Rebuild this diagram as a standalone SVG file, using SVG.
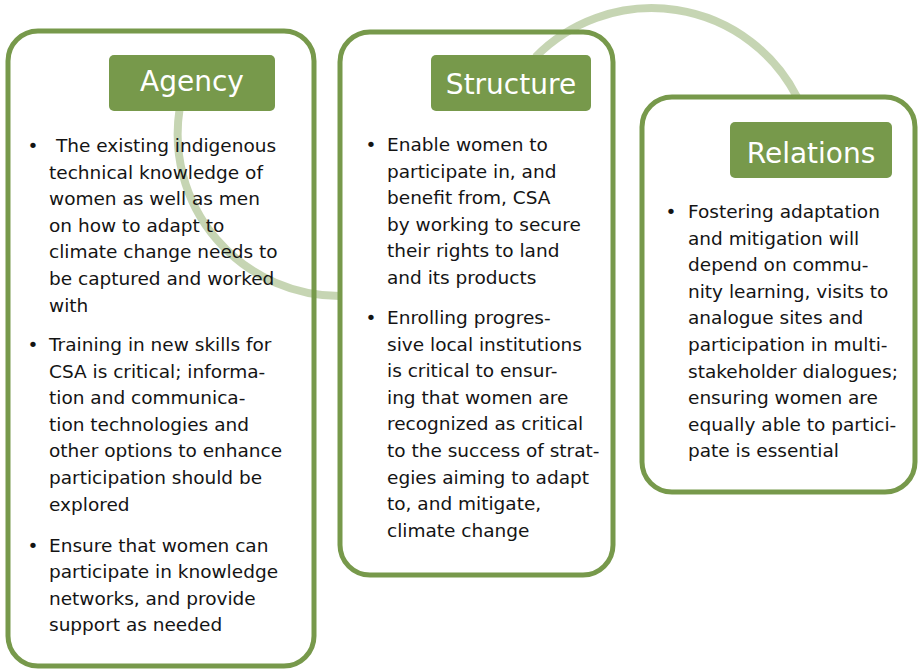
<svg xmlns="http://www.w3.org/2000/svg" width="919" height="671" viewBox="0 0 919 671">
<style>
.box{fill:#fff;stroke:#77994b;stroke-width:5}
.ttl{fill:#77994b}
.tt{font-family:"DejaVu Sans",sans-serif;font-size:28px;fill:#fff;text-anchor:middle}
.t{font-family:"DejaVu Sans",sans-serif;font-size:18.5px;fill:#141414}
.b{font-family:"DejaVu Sans",sans-serif;font-size:18.5px;fill:#141414;text-anchor:middle}
.arc{fill:none;stroke:#779a4a;stroke-opacity:0.42;stroke-width:8}
</style>
<rect x="0" y="0" width="919" height="671" fill="#fff"/>
<g id="agency-frame"><rect class="box" x="8" y="31" width="306" height="635" rx="30"/></g>
<g id="structure-frame"><rect class="box" x="340" y="32" width="273" height="543" rx="30"/></g>
<g id="relations-frame"><rect class="box" x="642" y="97" width="273" height="395" rx="30"/></g>
<g id="connectors">
<path class="arc" d="M179.6,109 A162,162 0 0 0 340,296"/>
<path class="arc" d="M535.5,57 A163,163 0 0 1 797,97"/>
</g>
<g id="agency">
<rect class="ttl" x="109" y="55" width="166" height="56" rx="5"/>
<text class="tt" x="192" y="91">Agency</text>
<text class="b" x="33" y="152">•</text>
<text class="t" x="49" y="152"><tspan x="56">The existing indigenous</tspan><tspan x="49" dy="26.6">technical knowledge of</tspan><tspan x="49" dy="26.6">women as well as men</tspan><tspan x="49" dy="26.6">on how to adapt to</tspan><tspan x="49" dy="26.6">climate change needs to</tspan><tspan x="49" dy="26.6">be captured and worked</tspan><tspan x="49" dy="26.6">with</tspan></text>
<text class="b" x="33" y="351">•</text>
<text class="t" x="49" y="351"><tspan x="49">Training in new skills for</tspan><tspan x="49" dy="26.6">CSA is critical; informa-</tspan><tspan x="49" dy="26.6">tion and communica-</tspan><tspan x="49" dy="26.6">tion technologies and</tspan><tspan x="49" dy="26.6">other options to enhance</tspan><tspan x="49" dy="26.6">participation should be</tspan><tspan x="49" dy="26.6">explored</tspan></text>
<text class="b" x="33" y="551.5">•</text>
<text class="t" x="49" y="551.5"><tspan x="49">Ensure that women can</tspan><tspan x="49" dy="26.6">participate in knowledge</tspan><tspan x="49" dy="26.6">networks, and provide</tspan><tspan x="49" dy="26.6">support as needed</tspan></text>
</g>
<g id="structure">
<rect class="ttl" x="431" y="55" width="160" height="56" rx="5"/>
<text class="tt" x="511" y="94">Structure</text>
<text class="b" x="371" y="151">•</text>
<text class="t" x="387" y="151"><tspan x="387">Enable women to</tspan><tspan x="387" dy="26.6">participate in, and</tspan><tspan x="387" dy="26.6">benefit from, CSA</tspan><tspan x="387" dy="26.6">by working to secure</tspan><tspan x="387" dy="26.6">their rights to land</tspan><tspan x="387" dy="26.6">and its products</tspan></text>
<text class="b" x="371" y="324">•</text>
<text class="t" x="387" y="324"><tspan x="387">Enrolling progres-</tspan><tspan x="387" dy="26.6">sive local institutions</tspan><tspan x="387" dy="26.6">is critical to ensur-</tspan><tspan x="387" dy="26.6">ing that women are</tspan><tspan x="387" dy="26.6">recognized as critical</tspan><tspan x="387" dy="26.6">to the success of strat-</tspan><tspan x="387" dy="26.6">egies aiming to adapt</tspan><tspan x="387" dy="26.6">to, and mitigate,</tspan><tspan x="387" dy="26.6">climate change</tspan></text>
</g>
<g id="relations">
<rect class="ttl" x="730" y="122" width="162" height="56" rx="5"/>
<text class="tt" x="811" y="163">Relations</text>
<text class="b" x="671" y="218">•</text>
<text class="t" x="688" y="218"><tspan x="688">Fostering adaptation</tspan><tspan x="688" dy="26.6">and mitigation will</tspan><tspan x="688" dy="26.6">depend on commu-</tspan><tspan x="688" dy="26.6">nity learning, visits to</tspan><tspan x="688" dy="26.6">analogue sites and</tspan><tspan x="688" dy="26.6">participation in multi-</tspan><tspan x="688" dy="26.6">stakeholder dialogues;</tspan><tspan x="688" dy="26.6">ensuring women are</tspan><tspan x="688" dy="26.6">equally able to partici-</tspan><tspan x="688" dy="26.6">pate is essential</tspan></text>
</g>
</svg>
